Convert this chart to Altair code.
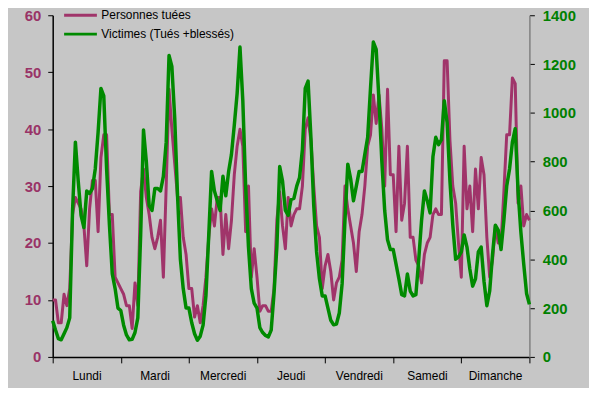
import altair as alt
import pandas as pd

jours = ["Lundi", "Mardi", "Mercredi", "Jeudi", "Vendredi", "Samedi", "Dimanche"]
series = ["Personnes tuées", "Victimes (Tués +blessés)"]

# Personnes tuées (axe gauche), 24 heures par jour
tues_lundi = [10, 10, 6, 6, 11, 9, 12, 25, 28, 27, 26, 23, 16, 26, 31, 31, 22, 35, 39, 39, 25, 25, 14, 13]
tues_mardi = [12, 11, 9, 9, 5, 13, 9, 29, 33, 28, 25, 21, 19, 21, 24, 14, 30, 47, 40, 34, 28, 28, 21, 18]
tues_mercredi = [12, 12, 7, 9, 6, 9, 14, 21, 26, 23, 28, 28, 18, 25, 19, 24, 32, 37, 40, 37, 22, 30, 14, 19]
tues_jeudi = [14, 8, 9, 9, 8, 8, 12, 24, 29, 23, 19, 28, 23, 25, 26, 26, 30, 40, 42, 38, 30, 23, 21, 12]
tues_vendredi = [16, 18, 15, 10, 13, 14, 17, 30, 26, 23, 20, 15, 22, 25, 30, 37, 39, 46, 41, 46, 40, 30, 47, 32]
tues_samedi = [32, 22, 37, 24, 27, 37, 21, 21, 17, 16, 13, 18, 20, 21, 25, 26, 25, 25, 52, 52, 38, 30, 27, 20]
tues_dimanche = [14, 37, 26, 30, 22, 33, 26, 35, 32, 21, 14, 17, 23, 20, 20, 29, 39, 39, 49, 48, 27, 30, 23, 25]
tues_fin = [24]

# Victimes (Tués + blessés) (axe droit)
vict_lundi = [148, 110, 75, 70, 95, 120, 160, 600, 880, 720, 580, 530, 680, 670, 690, 770, 920, 1100, 1070, 770, 540, 340, 280, 200]
vict_mardi = [190, 130, 90, 70, 72, 100, 160, 500, 930, 800, 620, 600, 690, 690, 680, 740, 880, 1235, 1190, 980, 660, 400, 280, 200]
vict_mercredi = [200, 140, 95, 68, 85, 130, 250, 500, 760, 680, 640, 600, 740, 660, 760, 830, 950, 1080, 1270, 1050, 700, 450, 280, 220]
vict_jeudi = [200, 120, 100, 88, 82, 110, 260, 450, 780, 720, 600, 580, 645, 650, 700, 735, 850, 1100, 1130, 900, 620, 430, 320, 250]
vict_vendredi = [250, 200, 150, 132, 135, 180, 300, 560, 790, 730, 640, 700, 760, 760, 830, 900, 1100, 1290, 1260, 1050, 800, 600, 480, 440]
vict_samedi = [440, 380, 320, 255, 250, 340, 270, 250, 255, 400, 560, 680, 640, 590, 820, 900, 870, 890, 1050, 960, 720, 540, 400, 410]
vict_dimanche = [430, 500, 450, 360, 290, 320, 430, 450, 310, 210, 270, 420, 540, 520, 440, 560, 700, 770, 880, 935, 680, 510, 380, 260]
vict_fin = [215]

tues = tues_lundi + tues_mardi + tues_mercredi + tues_jeudi + tues_vendredi + tues_samedi + tues_dimanche + tues_fin
vict = vict_lundi + vict_mardi + vict_mercredi + vict_jeudi + vict_vendredi + vict_samedi + vict_dimanche + vict_fin
n = len(tues)

df = pd.DataFrame({
    "heure": list(range(n)) + list(range(len(vict))),
    "serie": [series[0]] * n + [series[1]] * len(vict),
    "valeur": tues + vict,
})

FONT = "Liberation Sans"
C_T = "#A0346A"
C_V = "#008A00"

label_list = "[" + ",".join("'" + j + "'" for j in jours) + ",'']"

x = alt.X(
    "heure:Q",
    scale=alt.Scale(domain=[0, 168], nice=False, zero=False),
    axis=alt.Axis(
        values=list(range(0, 169, 24)), labelExpr=label_list + "[round(datum.value/24)]",
        title=None, grid=False, domainColor="black", tickColor="black", tickSize=6,
        labelOffset=34, labelPadding=8, labelFontSize=12, labelFont=FONT, labelColor="black",
        labelOverlap=False, labelBound=False, labelFlush=False, domainWidth=1.5,
    ),
)

color = alt.Color(
    "serie:N",
    scale=alt.Scale(domain=series, range=[C_T, C_V]),
    legend=alt.Legend(
        title=None, orient="none", legendX=10, legendY=-7, symbolType="stroke",
        symbolSize=1089, symbolStrokeWidth=3, clipHeight=14, rowPadding=5,
        labelFontSize=12, labelFont=FONT, labelColor="black", labelOffset=3,
        padding=0, direction="vertical",
    ),
)

line_t = alt.Chart(df).transform_filter(alt.datum.serie == series[0]).mark_line(
    strokeWidth=3, strokeJoin="round"
).encode(
    x=x,
    y=alt.Y(
        "valeur:Q", scale=alt.Scale(domain=[0, 60], nice=False),
        axis=alt.Axis(
            orient="left", values=list(range(0, 61, 10)), title=None, grid=False,
            domainColor="black", tickColor="black", tickSize=5, labelPadding=7,
            labelColor="#993366", labelFontSize=15, labelFontWeight="bold", labelFont=FONT,
            domainWidth=1.5, format="d",
        ),
    ),
    color=color,
)

line_v = alt.Chart(df).transform_filter(alt.datum.serie == series[1]).mark_line(
    strokeWidth=3.5, strokeJoin="round"
).encode(
    x=x,
    y=alt.Y(
        "valeur:Q", scale=alt.Scale(domain=[0, 1400], nice=False),
        axis=alt.Axis(
            orient="right", values=list(range(0, 1401, 200)), title=None, grid=False,
            domainColor="#808080", tickColor="black", tickSize=5, labelPadding=8,
            labelColor="#008000", labelFontSize=15, labelFontWeight="bold", labelFont=FONT,
            domainWidth=1.5, format="d",
        ),
    ),
    color=color,
)

chart = alt.layer(line_t, line_v).resolve_scale(y="independent").properties(
    width=480, height=344,
    autosize=alt.AutoSizeParams(type="none"),
    padding={"left": 45, "top": 6, "right": 60, "bottom": 30},
    background="#C6C6C6",
).configure_view(stroke=None)

chart.save("out.html", embed_options={"renderer": "svg", "actions": False})
